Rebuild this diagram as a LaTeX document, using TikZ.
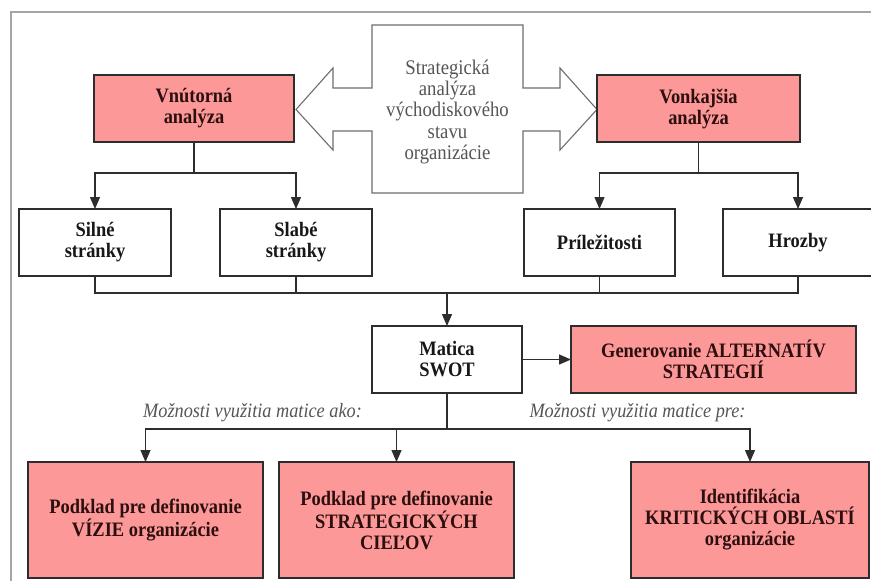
\documentclass[tikz,border=0pt]{standalone}
\usepackage{fontspec}
\setmainfont{Liberation Serif}[FakeStretch=0.9]
\usetikzlibrary{arrows.meta}
\definecolor{rose}{RGB}{252,152,152}
\definecolor{edge}{RGB}{45,45,45}
\definecolor{frame}{RGB}{165,165,165}
\definecolor{ink}{RGB}{25,22,22}
\definecolor{roseink}{RGB}{45,15,15}
\definecolor{softink}{RGB}{85,85,85}
\begin{document}
\begin{tikzpicture}[x=1pt,y=-1pt,
  txt/.style={font=\fontsize{20.5}{21}\selectfont\bfseries, align=center},
  wbox/.style={txt, draw=edge, line width=1.2pt, fill=white, text=ink,
    inner sep=0pt, outer sep=0pt},
  pbox/.style={txt, draw=edge, line width=1.4pt, fill=rose, text=roseink,
    inner sep=0pt, outer sep=0pt},
  link/.style={draw=edge, line width=1.3pt},
  arr/.style={link, -{Triangle[length=12pt,width=10pt]}},
  note/.style={font=\fontsize{20.3}{21}\selectfont\itshape, text=softink,
    inner sep=0pt, anchor=base}
]
\useasboundingbox (0,0) rectangle (871,581);
\fill[white] (0,0) rectangle (871,581);

% outer frame (top and left edges)
\draw[frame, line width=1.4pt] (871,12) -- (11,12) -- (11,581);

% central double arrow
\draw[draw=softink!85, line width=1.1pt, fill=white]
  (372,25) -- (523,25) -- (523,88) -- (560,88) -- (560,68) -- (597,109.5)
  -- (560,150) -- (560,131) -- (523,131) -- (523,193) -- (372,193)
  -- (372,131) -- (333,131) -- (333,150) -- (296,109.5) -- (333,68)
  -- (333,88) -- (372,88) -- cycle;
\node[font=\fontsize{20.8}{21.2}\selectfont, align=center, text=softink] (strat)
  at (447.5,112) {Strategická\\analýza\\východiskového\\stavu\\organizácie};

% analysis boxes
\node[pbox, minimum width=200, minimum height=67] (vnut) at (194,108.5) {Vnútorná\\analýza};
\node[pbox, minimum width=203, minimum height=67] (vonk) at (698.5,108.5) {Vonkajšia\\analýza};

% SWOT factors
\node[wbox, minimum width=152, minimum height=67] (silne) at (95,242.5) {Silné\\stránky};
\node[wbox, minimum width=152, minimum height=67] (slabe) at (296,242.5) {Slabé\\stránky};
\node[wbox, minimum width=151, minimum height=67] (prilez) at (599.5,242.5) {Príležitosti};
\node[wbox, minimum width=150, minimum height=67] (hrozby) at (798,242.5) {Hrozby};

% matrix and strategies
\node[wbox, minimum width=150, minimum height=67] (swot) at (447,359.5) {Matica\\SWOT};
\node[pbox, minimum width=285, minimum height=67] (gen) at (713.5,359.5) {Generovanie ALTERNATÍV\\STRATEGIÍ};

% uses of the matrix
\node[pbox, minimum width=235, minimum height=116] (vizie) at (145.5,520) {Podklad pre definovanie\\VÍZIE organizácie};
\node[pbox, minimum width=235, minimum height=116] (ciele) at (396.5,520) {Podklad pre definovanie\\STRATEGICKÝCH\\CIEĽOV};
\node[pbox, minimum width=238, minimum height=116] (krit) at (750,520) {Identifikácia\\KRITICKÝCH OBLASTÍ\\organizácie};

\node[note] (ako) at (252.5,417) {Možnosti využitia matice ako:};
\node[note] (pre) at (637.5,417) {Možnosti využitia matice pre:};

% junction points
\coordinate (jl) at (194,173);
\coordinate (jr) at (698.5,173);
\coordinate (jm) at (447,293);
\coordinate (jb) at (447,429);

% internal analysis -> strengths, weaknesses
\draw[link] (vnut.south) -- (jl);
\draw[arr] (jl) -| (silne.north);
\draw[arr] (jl) -| (slabe.north);

% external analysis -> opportunities, threats
\draw[link] (vonk.south) -- (jr);
\draw[arr] (jr) -| (prilez.north);
\draw[arr] (jr) -| (hrozby.north);

% factors -> SWOT matrix
\draw[link] (silne.south) |- (jm) -| (hrozby.south);
\draw[link] (slabe.south) -- (slabe.south |- jm);
\draw[link] (prilez.south) -- (prilez.south |- jm);
\draw[arr] (jm) -- (swot.north);

% SWOT matrix -> alternatives
\draw[arr] (swot.east) -- (gen.west);

% SWOT matrix -> uses
\draw[link] (swot.south) -- (jb);
\draw[arr] (jb) -| (vizie.north);
\draw[arr] (jb) -| (krit.north);
\draw[arr] (ciele.north |- jb) -- (ciele.north);
\end{tikzpicture}
\end{document}
